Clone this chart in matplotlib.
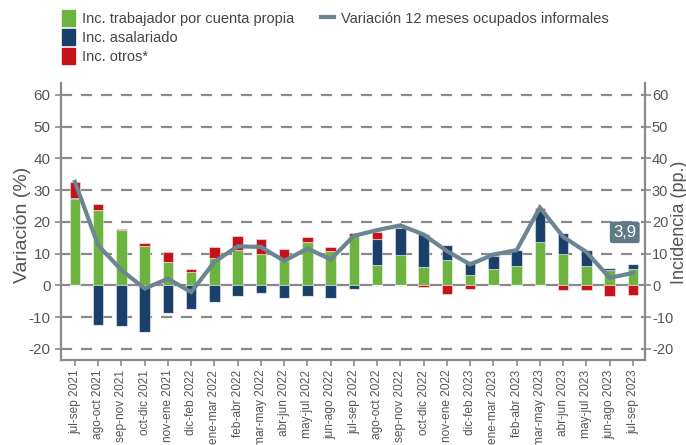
import matplotlib
matplotlib.use("Agg")
import matplotlib.pyplot as plt
from matplotlib.patches import Patch
from matplotlib.lines import Line2D
import numpy as np

plt.rcParams['font.family'] = ['Liberation Sans', 'DejaVu Sans']

categories = ["jul-sep 2021", "ago-oct 2021", "sep-nov 2021", "oct-dic 2021", "nov-ene 2021",
              "dic-feb 2022", "ene-mar 2022", "feb-abr 2022", "mar-may 2022", "abr-jun 2022",
              "may-jul 2022", "jun-ago 2022", "jul-sep 2022", "ago-oct 2022", "sep-nov 2022",
              "oct-dic 2022", "nov-ene 2022", "dic-feb 2023", "ene-mar 2023", "feb-abr 2023",
              "mar-may 2023", "abr-jun 2023", "may-jul 2023", "jun-ago 2023", "jul-sep 2023"]

cuenta_propia = [27.1, 23.7, 17.4, 12.3, 7.4, 4.3, 8.7, 11.1, 9.8, 7.7,
                 13.7, 10.7, 15.7, 6.3, 9.7, 5.8, 8.1, 3.2, 5.2, 6.0,
                 13.6, 9.8, 6.2, 4.7, 5.3]
asalariado = [0.4, -12.6, -12.9, -14.7, -8.6, -7.4, -5.1, -3.2, -2.4, -3.9,
              -3.5, -3.9, -1.1, 8.2, 8.5, 10.5, 4.6, 4.5, 4.0, 5.1,
              10.1, 6.7, 4.9, 0.7, 1.3]
otros = [5.2, 1.8, 0.3, 1.2, 3.1, 0.9, 3.5, 4.3, 4.7, 3.6,
         1.4, 1.4, 0.8, 2.3, 0.1, -0.4, -2.6, -1.2, 0.4, 0.1,
         0.7, -1.6, -1.6, -3.3, -3.0]
variacion = [32.6, 12.6, 4.8, -1.0, 2.1, -2.1, 7.4, 12.3, 12.1, 7.7,
             11.6, 8.2, 15.6, 17.4, 18.9, 16.0, 10.8, 6.6, 9.7, 11.1,
             24.5, 15.3, 10.5, 2.4, 3.9]

green = "#6db33f"
blue = "#1b3f6b"
red = "#c4111a"
line_c = "#6b8591"
grid_c = "#8a8a8a"
text_c = "#555555"

fig = plt.figure(figsize=(6.86, 4.45), dpi=100)
ax = fig.add_axes([0.0889, 0.191, 0.8513, 0.623])

x = np.arange(len(categories))
width = 0.45
pos_base = np.zeros(len(x))
neg_base = np.zeros(len(x))
for vals, col in [(cuenta_propia, green), (asalariado, blue), (otros, red)]:
    v = np.array(vals)
    p = np.where(v > 0, v, 0)
    n = np.where(v < 0, v, 0)
    ax.bar(x, p, width, bottom=pos_base, color=col, edgecolor=(1, 1, 1, 0.45), linewidth=0.8, zorder=3)
    ax.bar(x, n, width, bottom=neg_base, color=col, edgecolor=(1, 1, 1, 0.45), linewidth=0.8, zorder=3)
    pos_base += p
    neg_base += n

ax.plot(x, variacion, color=line_c, lw=3, zorder=5, solid_joinstyle='miter')

yt = [-20, -10, 0, 10, 20, 30, 40, 50, 60]
for t in yt:
    if t == 0:
        ax.axhline(0, color=grid_c, lw=1.6, zorder=2)
    else:
        ax.axhline(t, color=grid_c, lw=1.6, ls=(0, (5, 4)), zorder=1)

ax.set_ylim(-23.5, 63.8)
ax.set_xlim(-0.6, 24.52)
ax.set_yticks(yt)
ax.set_yticklabels([str(t) for t in yt])
ax.set_xticks(x)
ax.set_xticklabels(categories, rotation=90, fontsize=8.6, color=text_c)
ax.tick_params(axis='y', labelsize=11, colors=text_c, length=4, width=1.2, color=grid_c)
ax.tick_params(axis='x', length=4, width=1.2, color=grid_c, pad=3)

for s in ['left', 'right', 'bottom']:
    ax.spines[s].set_color(grid_c)
    ax.spines[s].set_linewidth(1.6)
ax.spines['top'].set_visible(False)

ax2 = ax.twinx()
ax2.set_ylim(ax.get_ylim())
ax2.set_yticks(yt)
ax2.set_yticklabels([str(t) for t in yt])
ax2.tick_params(axis='y', labelsize=10.5, colors=text_c, length=4, width=1.2, color=grid_c, pad=1)
for s in ['left', 'right', 'bottom', 'top']:
    ax2.spines[s].set_visible(False)

fig.text(23 / 686, 0.494, "Variación (%)", rotation=90, ha='center', va='center',
         fontsize=14, color=text_c)
fig.text(679 / 686, 0.50, "Incidencia (pp.)", rotation=90, ha='center', va='center',
         fontsize=13, color=text_c)

ax.text(x[-1] - 0.35, 16.7, "3,9", ha='center', va='center', fontsize=12, color='white', zorder=6,
        bbox=dict(boxstyle='round,pad=0.2,rounding_size=0.15', fc="#5f7985", ec='none'))

handles = [Patch(color=green), Patch(color=blue), Patch(color=red),
           Line2D([], [], color=line_c, lw=3),
           Patch(color='none'), Patch(color='none')]
labels = ["Inc. trabajador por cuenta propia", "Inc. asalariado", "Inc. otros*",
          "Variación 12 meses ocupados informales", "", ""]
fig.legend(handles, labels, ncol=2, loc='upper left', bbox_to_anchor=(0.075, 1.0),
           frameon=False, fontsize=10.5, labelcolor="#444444", handlelength=0.9, handleheight=1.3,
           handletextpad=0.5, columnspacing=1.8, labelspacing=0.2, borderaxespad=0.3)

fig.savefig("out.png", dpi=100)
